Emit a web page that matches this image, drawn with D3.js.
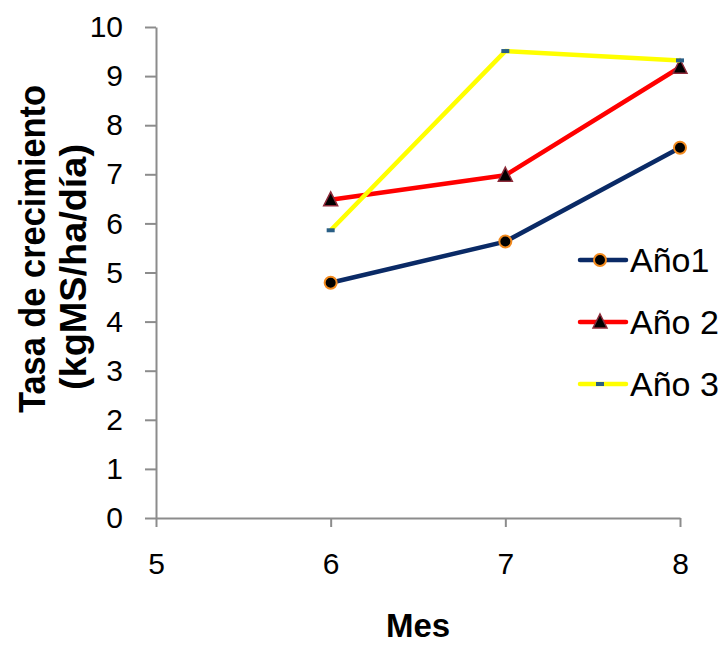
<!DOCTYPE html>
<html>
<head>
<meta charset="utf-8">
<script src="https://cdn.jsdelivr.net/npm/d3@7"></script>
<style>
  html, body { margin: 0; padding: 0; background: #fff; }
  svg { display: block; }
</style>
</head>
<body>
<svg id="chart" width="727" height="645"></svg>
<script>
// Monthly growth rate per year
const months = [6, 7, 8];
const ano1 = [4.79, 5.63, 7.54];
const ano2 = [6.48, 6.98, 9.18];
const ano3 = [5.86, 9.51, 9.32];
const seriesNames = ["Año1", "Año 2", "Año 3"];
const xTicks = [5, 6, 7, 8];
const yTicks = [0, 1, 2, 3, 4, 5, 6, 7, 8, 9, 10];

const svg = d3.select("#chart");
const x = d3.scaleLinear().domain([5, 8]).range([156, 680]);
const y = d3.scaleLinear().domain([0, 10]).range([518, 27]);

const axisColor = "#8c8c8c";
const font = "'Liberation Sans', Arial, sans-serif";

// Y axis
const yAxis = svg.append("g").attr("transform", `translate(${x(5)},0)`)
  .call(d3.axisLeft(y).tickValues(yTicks).tickSize(11).tickPadding(22).tickSizeOuter(0));
yAxis.select(".domain").attr("stroke", axisColor).attr("stroke-width", 2);
yAxis.selectAll(".tick line").attr("stroke", axisColor).attr("stroke-width", 2);
yAxis.selectAll(".tick text").attr("font-family", font).attr("font-size", 30).attr("fill", "#000");

// X axis
const xAxis = svg.append("g").attr("transform", `translate(0,${y(0)})`)
  .call(d3.axisBottom(x).tickValues(xTicks).tickFormat(d3.format("d")).tickSize(9).tickPadding(26).tickSizeOuter(0));
xAxis.select(".domain").attr("stroke", axisColor).attr("stroke-width", 2);
xAxis.selectAll(".tick line").attr("stroke", axisColor).attr("stroke-width", 2);
xAxis.selectAll(".tick text").attr("font-family", font).attr("font-size", 30).attr("fill", "#000");

// Axis titles
svg.append("text")
  .attr("x", x(6.5)).attr("y", 637)
  .attr("text-anchor", "middle")
  .attr("font-family", font).attr("font-weight", "bold").attr("font-size", 33)
  .text("Mes");

const yTitle = svg.append("text")
  .attr("transform", "rotate(-90)")
  .attr("text-anchor", "middle")
  .attr("font-family", font).attr("font-weight", "bold").attr("font-size", 36);
yTitle.append("tspan").attr("x", -249).attr("y", 45)
  .attr("textLength", 328).attr("lengthAdjust", "spacingAndGlyphs")
  .text("Tasa de crecimiento");
yTitle.append("tspan").attr("x", -267).attr("y", 86)
  .attr("textLength", 246).attr("lengthAdjust", "spacingAndGlyphs")
  .text("(kgMS/ha/día)");

const series = [
  { name: seriesNames[0], values: ano1, color: "#0a2a66", marker: "circle" },
  { name: seriesNames[1], values: ano2, color: "#ff0000", marker: "triangle" },
  { name: seriesNames[2], values: ano3, color: "#ffff00", marker: "dash" }
];

const line = d3.line().x((d, i) => x(months[i])).y(d => y(d));

function drawMarker(g, type, cx, cy) {
  if (type === "circle") {
    g.append("circle").attr("cx", cx).attr("cy", cy).attr("r", 6)
      .attr("fill", "#000").attr("stroke", "#f28a1e").attr("stroke-width", 2);
  } else if (type === "triangle") {
    const s = 7;
    g.append("path")
      .attr("d", `M${cx},${cy - s - 1} L${cx + s},${cy + s - 1} L${cx - s},${cy + s - 1} Z`)
      .attr("fill", "#000").attr("stroke", "#8e2b3a").attr("stroke-width", 1.5);
  } else {
    g.append("rect").attr("x", cx - 4).attr("y", cy - 2).attr("width", 8).attr("height", 4)
      .attr("fill", "#2a5f86");
  }
}

// Draw series, yellow on top
series.forEach(s => {
  const g = svg.append("g");
  g.append("path").datum(s.values).attr("d", line)
    .attr("fill", "none").attr("stroke", s.color).attr("stroke-width", 4.5)
    .attr("stroke-linejoin", "round");
  s.values.forEach((v, i) => drawMarker(g, s.marker, x(months[i]), y(v)));
});

// Legend
const legendY = [260, 322, 384];
series.forEach((s, k) => {
  const g = svg.append("g");
  const ly = legendY[k];
  g.append("line").attr("x1", 580).attr("x2", 626).attr("y1", ly).attr("y2", ly)
    .attr("stroke", s.color).attr("stroke-width", 4.5).attr("stroke-linecap", "round");
  drawMarker(g, s.marker, 600, ly);
  g.append("text").attr("x", 630).attr("y", ly + 12)
    .attr("font-family", font).attr("font-size", 34).attr("fill", "#000")
    .text(s.name);
});
</script>
</body>
</html>
